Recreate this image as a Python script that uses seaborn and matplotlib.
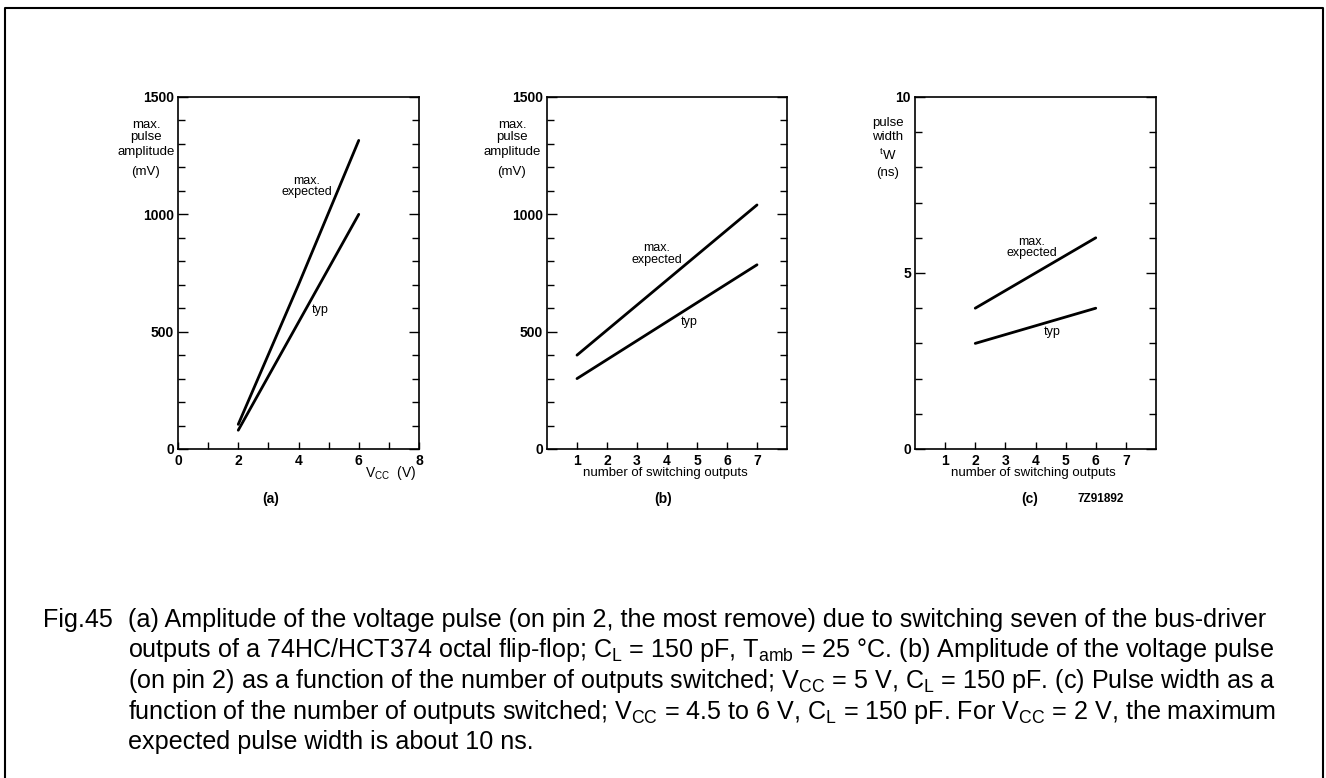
import matplotlib
matplotlib.use("Agg")
import matplotlib.pyplot as plt
from matplotlib.lines import Line2D
from matplotlib.ticker import MultipleLocator
import seaborn as sns
import pandas as pd

# ---------------- data ----------------
a_x_max = [2, 4, 6]
a_y_max = [105, 700, 1315]
a_x_typ = [2, 4, 6]
a_y_typ = [80, 540, 1000]

b_x_max = [1, 7]
b_y_max = [400, 1040]
b_x_typ = [1, 7]
b_y_typ = [300, 785]

c_x_max = [2, 6]
c_y_max = [4.0, 6.0]
c_x_typ = [2, 6]
c_y_typ = [3.0, 4.0]

a_xticks = [0, 1, 2, 3, 4, 5, 6, 7, 8]
a_xticklabels = ["0", "", "2", "", "4", "", "6", "", "8"]
bc_xticks = [1, 2, 3, 4, 5, 6, 7]
bc_xticklabels = ["1", "2", "3", "4", "5", "6", "7"]
ab_yticks = [0, 500, 1000, 1500]
c_yticks = [0, 5, 10]

caption_lines = [
    "(a) Amplitude of the voltage pulse (on pin 2, the most remove) due to switching seven of the bus-driver",
    r"outputs of a 74HC/HCT374 octal flip-flop; C$_\mathrm{L}$ = 150 pF, T$_\mathrm{amb}$ = 25 °C. (b) Amplitude of the voltage pulse",
    r"(on pin 2) as a function of the number of outputs switched; V$_\mathrm{CC}$ = 5 V, C$_\mathrm{L}$ = 150 pF. (c) Pulse width as a",
    r"function of the number of outputs switched; V$_\mathrm{CC}$ = 4.5 to 6 V, C$_\mathrm{L}$ = 150 pF. For V$_\mathrm{CC}$ = 2 V, the maximum",
    "expected pulse width is about 10 ns.",
]

# ---------------- style ----------------
sns.set_theme(style="white")
plt.rcParams["font.family"] = ["Liberation Sans", "DejaVu Sans"]
plt.rcParams["text.color"] = "black"
plt.rcParams["xtick.color"] = "black"
plt.rcParams["ytick.color"] = "black"
plt.rcParams["axes.edgecolor"] = "black"
plt.rcParams["mathtext.fontset"] = "custom"
plt.rcParams["mathtext.rm"] = "Liberation Sans"
plt.rcParams["mathtext.it"] = "Liberation Sans:italic"
plt.rcParams["mathtext.bf"] = "Liberation Sans:bold"

W, H = 1326, 778
fig = plt.figure(figsize=(W / 100, H / 100), dpi=100)
fig.patch.set_facecolor("white")


def fx(x):
    return x / W


def fy(y):
    return 1 - y / H


def make_ax(left, right, top=97, bottom=449):
    return fig.add_axes([fx(left), fy(bottom), fx(right - left), (bottom - top) / H])


def df_of(xm, ym, xt, yt):
    return pd.DataFrame({
        "x": list(xm) + list(xt),
        "y": list(ym) + list(yt),
        "curve": ["max"] * len(xm) + ["typ"] * len(xt),
    })


def style_ax(ax, xlim, ylim, xticks, xlabels, yticks, yminor):
    ax.set_xlim(*xlim)
    ax.set_ylim(*ylim)
    for s in ax.spines.values():
        s.set_visible(True)
        s.set_color("black")
        s.set_linewidth(1.2)
    ax.set_xticks(xticks)
    ax.set_xticklabels(xlabels, fontsize=10, fontweight="bold")
    ax.set_yticks(yticks)
    ax.set_yticklabels([str(v) for v in yticks], fontsize=10, fontweight="bold")
    ax.yaxis.set_minor_locator(MultipleLocator(yminor))
    ax.tick_params(axis="y", which="major", direction="in", length=7.5, width=1.0,
                   left=True, right=True, pad=3, colors="black")
    ax.tick_params(axis="y", which="minor", direction="in", length=5, width=1.0,
                   left=True, right=True)
    ax.tick_params(axis="x", which="major", direction="in", length=5, width=1.0,
                   bottom=True, top=False, pad=3.5, colors="black")
    ax.set_xlabel("")
    ax.set_ylabel("")
    ax.grid(False)


pal = {"max": "black", "typ": "black"}
ann = 9

# ---------------- panel a ----------------
ax_a = make_ax(178, 419)
sns.lineplot(data=df_of(a_x_max, a_y_max, a_x_typ, a_y_typ), x="x", y="y", hue="curve",
             palette=pal, legend=False, linewidth=2.0, ax=ax_a)
style_ax(ax_a, (0, 8), (0, 1500), a_xticks, a_xticklabels, ab_yticks, 100)
ax_a.text(4.27, 1118, "max.\nexpected", ha="center", va="center", fontsize=ann, linespacing=0.95)
ax_a.text(4.71, 592, "typ", ha="center", va="center", fontsize=ann)

# ---------------- panel b ----------------
ax_b = make_ax(547, 787)
sns.lineplot(data=df_of(b_x_max, b_y_max, b_x_typ, b_y_typ), x="x", y="y", hue="curve",
             palette=pal, legend=False, linewidth=2.0, ax=ax_b)
style_ax(ax_b, (0, 8), (0, 1500), bc_xticks, bc_xticklabels, ab_yticks, 100)
ax_b.text(3.66, 831, "max.\nexpected", ha="center", va="center", fontsize=ann, linespacing=0.95)
ax_b.text(4.73, 541, "typ", ha="center", va="center", fontsize=ann)

# ---------------- panel c ----------------
ax_c = make_ax(915, 1156)
sns.lineplot(data=df_of(c_x_max, c_y_max, c_x_typ, c_y_typ), x="x", y="y", hue="curve",
             palette=pal, legend=False, linewidth=2.0, ax=ax_c)
style_ax(ax_c, (0, 8), (0, 10), bc_xticks, bc_xticklabels, c_yticks, 1)
ax_c.text(3.87, 5.72, "max.\nexpected", ha="center", va="center", fontsize=ann, linespacing=0.95)
ax_c.text(4.54, 3.32, "typ", ha="center", va="center", fontsize=ann)

# ---------------- axis labels ----------------
lab = 9.5
for cx in (146, 512):
    for txt, y in (("max.", 125), ("pulse", 137), ("amplitude", 152), ("(mV)", 172)):
        fig.text(fx(cx), fy(y), txt, ha="center", va="center", fontsize=lab)
for txt, y in (("pulse", 123), ("width", 137), (r"$^{\mathrm{t}}\mathrm{W}$", 155), ("(ns)", 173)):
    fig.text(fx(888), fy(y), txt, ha="center", va="center", fontsize=lab)

fig.text(fx(416), fy(473), r"V$_\mathrm{CC}$  (V)", ha="right", va="center", fontsize=lab + 0.5)
fig.text(fx(665), fy(473), "number of switching outputs", ha="center", va="center", fontsize=lab)
fig.text(fx(1033), fy(473), "number of switching outputs", ha="center", va="center", fontsize=lab)

fig.text(fx(271), fy(499), "(a)", ha="center", va="center", fontsize=10, fontweight="bold")
fig.text(fx(663), fy(499), "(b)", ha="center", va="center", fontsize=10, fontweight="bold")
fig.text(fx(1030), fy(499), "(c)", ha="center", va="center", fontsize=10, fontweight="bold")
fig.text(fx(1078), fy(499), "7Z91892", ha="left", va="center", fontsize=8.5, fontweight="bold")

# ---------------- caption ----------------
cap_size = 16
fig_lbl = fig.text(fx(43), fy(620), "Fig.45", ha="left", va="center", fontsize=cap_size)
t0 = fig.text(fx(128), fy(620), caption_lines[0], ha="left", va="center", fontsize=cap_size)
fig.canvas.draw()
r = fig.canvas.get_renderer()
w0 = t0.get_window_extent(r).width
cap_size = cap_size * (1140 / w0)
t0.set_fontsize(cap_size)
fig_lbl.set_fontsize(cap_size)
for i, line in enumerate(caption_lines[1:], start=1):
    fig.text(fx(128), fy(620 + 30.5 * i), line, ha="left", va="center", fontsize=cap_size)

# ---------------- outer frame ----------------
fig.add_artist(Line2D([fx(5), fx(5), fx(1323), fx(1323)], [fy(790), fy(7.5), fy(7.5), fy(790)],
                      color="black", linewidth=1.5, transform=fig.transFigure, clip_on=False))

fig.savefig("out.png", dpi=100, facecolor="white")
